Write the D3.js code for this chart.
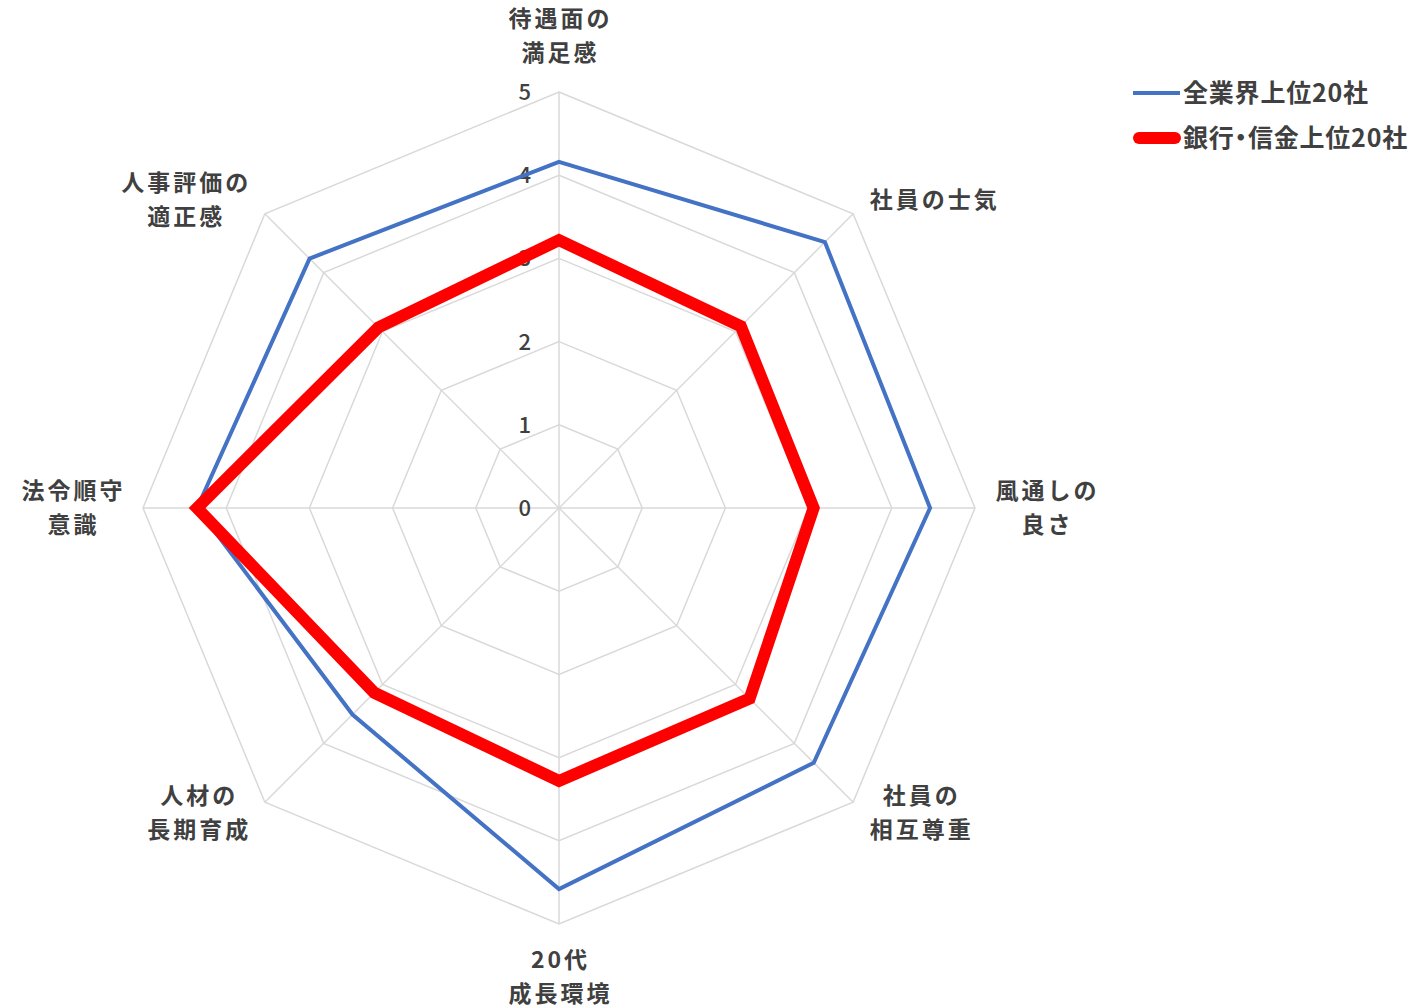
<!DOCTYPE html>
<html lang="ja">
<head>
<meta charset="utf-8">
<script src="https://cdn.jsdelivr.net/npm/d3@7"></script>
<style>
  html, body { margin: 0; padding: 0; background: #fff; }
  svg { display: block; }
  text { font-family: "Noto Sans CJK JP", "Noto Sans", sans-serif; fill: #404040; }
  .legend-text { font-feature-settings: "halt" 1; }
</style>
</head>
<body>
<svg id="chart" width="1418" height="1008"></svg>
<script>
// Axis categories, clockwise from the top (each entry is split into lines)
const categories = [
  ["待遇面の", "満足感"],
  ["社員の士気"],
  ["風通しの", "良さ"],
  ["社員の", "相互尊重"],
  ["20代", "成長環境"],
  ["人材の", "長期育成"],
  ["法令順守", "意識"],
  ["人事評価の", "適正感"]
];

// Series names and scores (0–5 scale)
const seriesNames = ["全業界上位20社", "銀行・信金上位20社"];
const allIndustryTop20 = [4.16, 4.52, 4.46, 4.33, 4.58, 3.51, 4.35, 4.24];
const bankTop20       = [3.22, 3.09, 3.06, 3.24, 3.28, 3.14, 4.35, 3.07];

// Radial tick labels
const tickValues = [0, 1, 2, 3, 4, 5];

const svg = d3.select("#chart");
const cx = 559, cy = 508, R = 416;
const n = categories.length;

const r = d3.scaleLinear().domain([0, 5]).range([0, R]);
const angle = d3.scaleLinear().domain([0, n]).range([0, 2 * Math.PI]);

const pt = (i, v) => [cx + r(v) * Math.sin(angle(i)), cy - r(v) * Math.cos(angle(i))];

const g = svg.append("g");

// Grid rings (octagons)
const ringLine = d3.line().curve(d3.curveLinearClosed);
g.selectAll("path.ring")
  .data(tickValues.filter(t => t > 0))
  .join("path")
  .attr("class", "ring")
  .attr("d", t => ringLine(d3.range(n).map(i => pt(i, t))))
  .attr("fill", "none")
  .attr("stroke", "#d9d9d9")
  .attr("stroke-width", 1.5);

// Spokes
g.selectAll("line.spoke")
  .data(d3.range(n))
  .join("line")
  .attr("class", "spoke")
  .attr("x1", cx).attr("y1", cy)
  .attr("x2", i => pt(i, 5)[0])
  .attr("y2", i => pt(i, 5)[1])
  .attr("stroke", "#d9d9d9")
  .attr("stroke-width", 1.5);

// Tick labels along the top spoke
g.selectAll("text.tick")
  .data(tickValues)
  .join("text")
  .attr("class", "tick")
  .attr("x", cx - 28)
  .attr("y", t => cy - r(t))
  .attr("dy", "0.36em")
  .attr("text-anchor", "end")
  .attr("font-size", 22)
  .attr("font-weight", 500)
  .text(t => t);

// Series polygons
const series = [
  { name: seriesNames[0], values: allIndustryTop20, color: "#4472C4", width: 4 },
  { name: seriesNames[1], values: bankTop20, color: "#FF0000", width: 12 }
];

g.selectAll("path.series")
  .data(series)
  .join("path")
  .attr("class", "series")
  .attr("d", s => ringLine(s.values.map((v, i) => pt(i, v))))
  .attr("fill", "none")
  .attr("stroke", s => s.color)
  .attr("stroke-width", s => s.width)
  .attr("stroke-linejoin", "miter");

// Category labels placed just outside the outer ring (one text per label, one tspan per line)
const lineH = 33.5;
const labels = g.selectAll("text.cat")
  .data(categories)
  .join("text")
  .attr("class", "cat")
  .attr("text-anchor", "middle")
  .attr("font-size", 23)
  .attr("font-weight", 700)
  .attr("letter-spacing", 3)
  .attr("transform", (c, i) => {
    const [x, y] = pt(i, 5);
    const sx = Math.round(Math.sin(angle(i)) * 1000) / 1000;
    const sy = -Math.round(Math.cos(angle(i)) * 1000) / 1000;
    let ox = 0, oy = 0;
    if (Math.abs(sx) < 0.01) { oy = Math.sign(sy) * (sy < 0 ? 56 : 53); }
    else if (Math.abs(sy) < 0.01) { ox = Math.sign(sx) * 71; }
    else if (sy < 0) { ox = Math.sign(sx) * 80; oy = -14; }
    else { ox = Math.sign(sx) * 67; oy = 11; }
    return `translate(${x + ox},${y + oy})`;
  });

labels.each(function(lines) {
  const h = lines.length * lineH;
  d3.select(this).selectAll("tspan")
    .data(lines)
    .join("tspan")
    .attr("x", 1.5)
    .attr("y", (d, k) => -h / 2 + lineH * (k + 0.5))
    .attr("dy", "0.35em")
    .text(d => d);
});

// Legend
const legend = svg.append("g").attr("transform", "translate(1133,93)");
const items = legend.selectAll("g")
  .data(series)
  .join("g")
  .attr("transform", (s, k) => `translate(0,${k * 45})`);
items.append("line")
  .attr("x1", s => s.width > 6 ? 6 : 0)
  .attr("x2", s => s.width > 6 ? 42 : 47)
  .attr("y1", 0).attr("y2", 0)
  .attr("stroke", s => s.color)
  .attr("stroke-width", s => s.width)
  .attr("stroke-linecap", s => s.width > 6 ? "round" : "butt");

// Legend text (half-width punctuation via the "halt" feature)
items.append("text")
  .attr("class", "legend-text")
  .attr("x", 50)
  .attr("y", 0)
  .attr("dy", "0.35em")
  .attr("font-size", 25)
  .attr("font-weight", 700)
  .attr("letter-spacing", 0.8)
  .text(s => s.name);
</script>
</body>
</html>
